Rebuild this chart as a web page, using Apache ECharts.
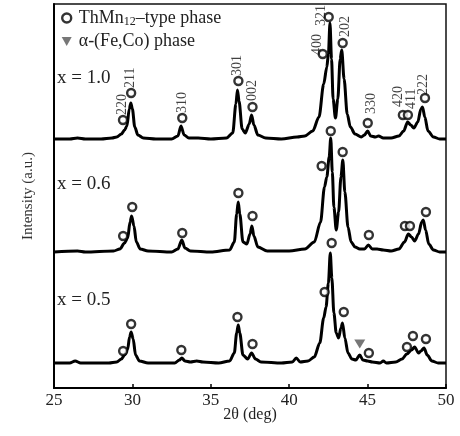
<!DOCTYPE html>
<html>
<head>
<meta charset="utf-8">
<script src="https://cdn.jsdelivr.net/npm/echarts@6/dist/echarts.min.js"></script>
<style>
  html, body { margin: 0; padding: 0; background: #fff; }
  #chart { width: 460px; height: 436px; }
</style>
</head>
<body>
<div id="chart"></div>
<script>
// sample names and vertical offsets of each pattern (a.u.)
const sampleNames = ['x = 1.0', 'x = 0.6', 'x = 0.5'];
const offsets = [249, 136, 25];

// XRD patterns: [2theta, intensity above baseline]
const curve10 = [
  [25, 0], [26, 0], [26.5, 1], [27, 0], [28, 0], [28.7, 1], [29, 2], [29.3, 5], [29.5, 9],
  [29.65, 13], [29.8, 30], [29.9, 36], [30, 30], [30.15, 12], [30.35, 4], [30.7, 1], [31.5, 0],
  [32.5, 0], [32.9, 3], [33.1, 13], [33.3, 4], [33.6, 1], [34.2, 1], [35, 0], [36, 1], [36.4, 6],
  [36.6, 35], [36.7, 49], [36.8, 38], [37, 10], [37.2, 6], [37.45, 15], [37.6, 24], [37.75, 14],
  [38, 4], [38.5, 1], [39.5, 0], [40.5, 2], [41, 3], [41.5, 8], [41.9, 22], [42.2, 55], [42.4, 72],
  [42.5, 85], [42.6, 116], [42.7, 80], [42.8, 40], [42.95, 21], [43.1, 40], [43.25, 80], [43.35, 89],
  [43.5, 60], [43.7, 25], [43.9, 12], [44.2, 5], [44.6, 2], [44.8, 4], [45, 8], [45.2, 3], [45.5, 2],
  [45.7, 3], [46, 1], [46.5, 1], [47, 3], [47.3, 8], [47.55, 17], [47.75, 14], [47.95, 11], [48.2, 17],
  [48.4, 30], [48.5, 32], [48.65, 22], [48.85, 8], [49.2, 2], [49.6, 0], [50, 0]
];
const curve06 = [
  [25, 0], [26.5, 1], [27, 0], [28.8, 1], [29.2, 3], [29.5, 9], [29.7, 14], [29.85, 30], [29.95, 36],
  [30.1, 26], [30.25, 10], [30.5, 3], [31, 1], [32.5, 0], [32.9, 3], [33.15, 12], [33.35, 4], [33.7, 1],
  [35, 0], [36.2, 2], [36.5, 10], [36.65, 38], [36.75, 50], [36.85, 38], [37.05, 10], [37.3, 8],
  [37.5, 18], [37.62, 26], [37.75, 16], [38, 5], [38.6, 1], [40, 1], [41, 3], [41.6, 10], [42, 30],
  [42.25, 65], [42.4, 75], [42.55, 95], [42.65, 114], [42.75, 80], [42.85, 45], [43, 22], [43.15, 40],
  [43.3, 75], [43.42, 92], [43.55, 60], [43.75, 25], [43.95, 10], [44.2, 5], [44.5, 3], [44.8, 3],
  [45.05, 7], [45.3, 3], [45.6, 3], [46, 2], [46.5, 1], [47, 3], [47.35, 10], [47.6, 18], [47.8, 15],
  [48, 11], [48.25, 18], [48.45, 30], [48.55, 32], [48.7, 22], [48.9, 8], [49.2, 2], [49.6, 0], [50, 0]
];
const curve05 = [
  [25, 0], [26, 0], [26.35, 2], [26.7, 0], [28.5, 0], [29, 1], [29.3, 4], [29.5, 8], [29.7, 14],
  [29.82, 26], [29.92, 31], [30.05, 24], [30.2, 8], [30.45, 2], [31, 0], [32.7, 0], [33, 3],
  [33.15, 5], [33.35, 2], [33.7, 1], [34.1, 2], [34.5, 1], [35.5, 0], [36.2, 2], [36.5, 10],
  [36.65, 30], [36.75, 38], [36.85, 30], [37.05, 8], [37.35, 4], [37.6, 10], [37.85, 4], [38.2, 1],
  [39.5, 0], [40.2, 1], [40.45, 5], [40.7, 1], [41.2, 2], [41.6, 6], [41.95, 20], [42.2, 45],
  [42.35, 56], [42.5, 80], [42.62, 110], [42.72, 85], [42.85, 50], [43, 30], [43.15, 25], [43.3, 35],
  [43.4, 40], [43.55, 25], [43.75, 10], [44, 4], [44.25, 3], [44.5, 8], [44.7, 3], [45, 2], [45.3, 1],
  [45.8, 0], [46, 2], [46.2, 0], [46.8, 1], [47.2, 4], [47.5, 9], [47.8, 13], [48, 16], [48.25, 10],
  [48.4, 12], [48.6, 15], [48.8, 8], [49.1, 2], [49.5, 0], [50, 0]
];
const curves = [curve10, curve06, curve05];

// ThMn12-type phase markers: [2theta, intensity above baseline]
const hkl = ['220', '211', '310', '301', '002', '400', '321', '202', '330', '420', '411', '222'];
const peaks10 = [[29.4, 19], [29.92, 46], [33.18, 21], [36.76, 58], [37.66, 32], [42.14, 85],
  [42.52, 122], [43.41, 96], [45.01, 16], [47.25, 24], [47.57, 24], [48.66, 41]];
const peaks06 = [[29.41, 16], [29.99, 45], [33.18, 19], [36.76, 59], [37.66, 36], [42.07, 86],
  [42.65, 121], [43.41, 100], [45.08, 17], [47.38, 26], [47.7, 26], [48.72, 40]];
const peaks05 = [[29.41, 12], [29.92, 39], [33.12, 13], [36.7, 46], [37.66, 19], [42.26, 71],
  [42.71, 120], [43.48, 51], [45.08, 10], [47.51, 16], [47.89, 27], [48.72, 24]];
const peakSets = [peaks10, peaks06, peaks05];
// alpha-(Fe,Co) marker for x = 0.5
const alphaPeak = [[44.5, 19]];
// where the hkl labels of the top pattern sit: [2theta, intensity above baseline]
const hklLabelPos = [[29.35, 24], [29.86, 51], [33.2, 26], [36.7, 63], [37.65, 38], [41.8, 84],
  [42.07, 113], [43.55, 102], [45.25, 25], [46.93, 32], [47.8, 30], [48.55, 44]];

const FONT = 'Liberation Serif';
const chart = echarts.init(document.getElementById('chart'));

const series = [];
curves.forEach((c, i) => {
  series.push({
    type: 'line',
    name: sampleNames[i],
    data: c.map(p => [p[0], p[1] + offsets[i]]),
    symbol: 'none',
    smooth: 0.3,
    smoothMonotone: 'x',
    lineStyle: { color: '#000', width: 3 },
    silent: true,
    z: 2
  });
});
peakSets.forEach((ps, i) => {
  series.push({
    type: 'scatter',
    name: 'ThMn',
    data: ps.map(p => [p[0], p[1] + offsets[i]]),
    symbol: 'circle',
    symbolSize: 8,
    itemStyle: { color: '#fff', borderColor: '#000', borderWidth: 2.4 },
    z: 3
  });
});
series.push({
  type: 'scatter',
  name: 'alpha',
  data: alphaPeak.map(p => [p[0], p[1] + offsets[2]]),
  symbol: 'triangle',
  symbolRotate: 180,
  symbolSize: [11, 9],
  itemStyle: { color: '#555' },
  z: 3
});
series.push({
  type: 'scatter',
  name: 'hkl',
  data: hklLabelPos.map((p, k) => ({ value: [p[0], p[1] + offsets[0]], name: hkl[k] })),
  symbolSize: 0,
  label: {
    show: true,
    formatter: '{b}',
    position: [0, 0],
    rotate: 90,
    align: 'left',
    verticalAlign: 'middle',
    fontFamily: FONT,
    fontSize: 14,
    color: '#111'
  },
  z: 4
});

chart.setOption({
  animation: false,
  backgroundColor: '#fff',
  grid: {
    left: 54, right: 14, top: 4, bottom: 48,
    show: true, borderColor: '#111', borderWidth: 1.5
  },
  legend: {
    orient: 'vertical',
    left: 56, top: 4,
    itemWidth: 14, itemHeight: 9,
    itemGap: 5,
    selectedMode: false,
    data: [
      { name: 'ThMn', icon: 'circle', itemStyle: { color: '#fff', borderColor: '#000', borderWidth: 2.4 } },
      { name: 'alpha', icon: 'path://M0,0 L10,0 L5,9 Z', itemStyle: { color: '#555' } }
    ],
    formatter: name => name === 'ThMn'
      ? '{a|ThMn}{s|12}{a|\u2013type phase}'
      : '{a|\u03b1-(Fe,Co) phase}',
    textStyle: {
      rich: {
        a: { fontFamily: FONT, fontSize: 18, color: '#222' },
        s: { fontFamily: FONT, fontSize: 12, color: '#222', padding: [7, 0, 0, 0] }
      }
    }
  },
  graphic: sampleNames.map((s, i) => ({
    type: 'text',
    left: 57,
    top: [69, 175, 291][i],
    style: { text: s, font: '19px "Liberation Serif"', fill: '#222' }
  })),
  xAxis: {
    type: 'value',
    min: 25, max: 50, interval: 5,
    name: '2\u03b8 (deg)',
    nameLocation: 'middle',
    nameGap: 19,
    nameMoveOverlap: false,
    nameTextStyle: { fontFamily: FONT, fontSize: 16, color: '#222' },
    axisLine: { lineStyle: { color: '#000', width: 2 } },
    axisTick: { inside: true, length: 4, lineStyle: { color: '#000', width: 1.5 } },
    axisLabel: { fontFamily: FONT, fontSize: 17, color: '#222', margin: 4 },
    splitLine: { show: false }
  },
  yAxis: {
    type: 'value',
    min: 0, max: 384,
    name: 'Intensity (a.u.)',
    nameLocation: 'middle',
    nameGap: 18,
    nameTextStyle: { fontFamily: FONT, fontSize: 15, color: '#333' },
    axisLine: { show: true, lineStyle: { color: '#000', width: 2 } },
    axisTick: { show: false },
    axisLabel: { show: false },
    splitLine: { show: false }
  },
  series: series
});
</script>
</body>
</html>
